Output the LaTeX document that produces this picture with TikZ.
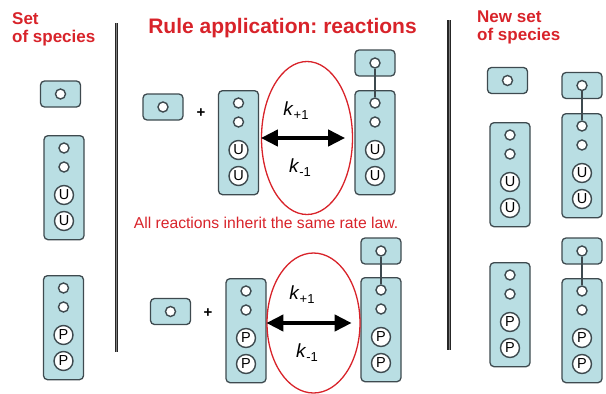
\documentclass[tikz,border=0pt]{standalone}
\usepackage{fontspec}
\setmainfont{Liberation Sans}
\frenchspacing
\usetikzlibrary{arrows.meta,shapes.geometric}
\definecolor{boxfill}{HTML}{B9DEE3}
\definecolor{boxline}{HTML}{3E4A4F}
\definecolor{titlered}{HTML}{D8232A}

\begin{document}
\begin{tikzpicture}[x=1pt,y=-1pt]
\tikzstyle{every node}=[inner sep=0pt];
\tikzstyle{site}=[draw=boxline,fill=white,shape=circle,line width=1.4pt,minimum size=10pt];
\tikzstyle{mod}=[site,minimum size=19pt,font=\fontsize{14.5}{14.5}\selectfont];
\tikzstyle{rbox}=[draw=boxline,fill=boxfill,rounded corners=4pt,line width=1.3pt,minimum width=40pt,minimum height=104pt];
\tikzstyle{lbox}=[rbox,minimum height=26pt];
\tikzstyle{label}=[text=titlered,font=\bfseries\fontsize{17}{18}\selectfont,align=left];
\tikzstyle{rate}=[draw=titlered,shape=ellipse,line width=1.3pt];
\tikzstyle{rxn}=[line width=4pt,{Triangle[length=17pt,width=16pt]}-{Triangle[length=17pt,width=16pt]}];
\tikzstyle{kval}=[font=\fontsize{19}{19}\selectfont];
\useasboundingbox (0,0) rectangle (606,394);

% separators
\draw[line width=1.2pt,black!85,double=black!50,double distance=1pt] (116.5,23) -- (116.5,352);
\draw[line width=1.2pt,black!85,double=black!50,double distance=1pt] (449,20) -- (449,350);

% headings
\node[label,anchor=west] (old) at (12,29) {Set\\of species};
\node[label,anchor=west] (new) at (477,27.5) {New set\\of species};
\node[text=titlered,font=\bfseries\fontsize{21}{21}\selectfont] (title) at (282.5,28) {Rule application: reactions};
\node[text=titlered,font=\fontsize{15.7}{16}\selectfont] (rule) at (266,223) {All reactions inherit the same rate law.};

% receptors
\foreach \n/\x/\y/\s in {recU1/64/135/U, recP1/63.5/275/P, recU2/238.5/90/U, cpxU1/375/90/U,
    recP2/246/278/P, cpxP1/381/277/P, recU3/510/122/U, cpxU2/582/113/U, recP3/510/262/P, cpxP2/582/278/P}
{
    \node[rbox,anchor=north] (\n) at (\x,\y) {};
    \node[site] (\n-1) at (\x,\y+13) {};
    \node[site] (\n-2) at (\x,\y+32) {};
    \node[mod] (\n-3) at (\x,\y+60) {\s};
    \node[mod] (\n-4) at (\x,\y+86) {\s};
}

% ligands
\foreach \n/\x/\y in {lig1/60.5/94, lig2/163/107, lig3/170.5/311.5, lig4/507.5/80.5,
    cl1/375/63, cl2/381/251, cl3/582/85.5, cl4/582/251}
{
    \node[lbox] (\n) at (\x,\y) {};
    \node[site] (\n-s) at (\x,\y) {};
}
\foreach \a/\b in {cl1/cpxU1, cl2/cpxP1, cl3/cpxU2, cl4/cpxP2}
    \draw[line width=1.3pt,boxline] (\a-s) -- (\b-1);

% reactions
\node[font=\bfseries\fontsize{15}{15}\selectfont] (plus1) at (201,113) {+};
\node[font=\bfseries\fontsize{15}{15}\selectfont] (plus2) at (208,313) {+};
\node[rate,minimum width=91pt,minimum height=153pt] (ell1) at (307,138) {};
\node[rate,minimum width=93pt,minimum height=140pt] (ell2) at (313.5,323) {};
\draw[rxn] (ell1.west) -- ([xshift=-8pt]ell1.east);
\draw[rxn] (ell2.west) -- ([xshift=-9pt]ell2.east);
\node[kval] (kf1) at (296,111) {\textit{k}\raisebox{-4pt}{\fontsize{13}{13}\selectfont +1}};
\node[kval] (kr1) at (300,168) {\textit{k}\raisebox{-4pt}{\fontsize{13}{13}\selectfont -1}};
\node[kval] (kf2) at (302,295) {\textit{k}\raisebox{-4pt}{\fontsize{13}{13}\selectfont +1}};
\node[kval] (kr2) at (307,353) {\textit{k}\raisebox{-4pt}{\fontsize{13}{13}\selectfont -1}};
\end{tikzpicture}
\end{document}
